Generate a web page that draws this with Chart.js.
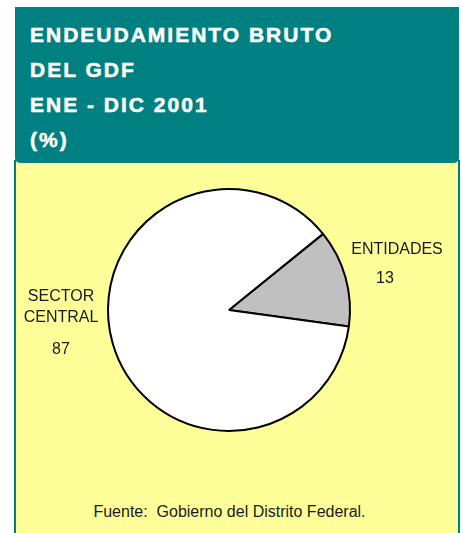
<!DOCTYPE html>
<html>
<head>
<meta charset="utf-8">
<script src="https://cdn.jsdelivr.net/npm/chart.js@4/dist/chart.umd.min.js"></script>
<style>
  body { margin: 0; background: #fff; width: 461px; height: 533px; overflow: hidden; position: relative; font-family: "Liberation Sans", Arial, sans-serif; }
  #panel { position: absolute; left: 14px; top: 160px; width: 442px; height: 380px; background: #ffff99; border-left: 2px solid #008080; border-right: 2px solid #008080; }
  #head { position: absolute; left: 15px; top: 7px; width: 444px; height: 156px; background: #008080; border-radius: 0 0 5px 5px; }
  #head div { color: #fff; font-weight: bold; font-size: 21px; line-height: 35px; letter-spacing: 2px; -webkit-text-stroke: 0.5px #fff; padding: 10px 0 0 15px; }
  #foot { position: absolute; left: 0; top: 504px; width: 459px; text-align: center; font-size: 16px; line-height: 16px; color: #1a1a1a; white-space: pre; }
  #c { position: absolute; left: 0; top: 0; }
</style>
</head>
<body>
<div id="panel"></div>
<div id="head"><div>ENDEUDAMIENTO BRUTO<br>DEL GDF<br>ENE - DIC 2001<br>(%)</div></div>
<div id="foot">Fuente:  Gobierno del Distrito Federal.</div>
<canvas id="c" width="461" height="533"></canvas>
<script>
const categories = ["ENTIDADES", "SECTOR CENTRAL"];
const labelLines = [["ENTIDADES"], ["SECTOR", "CENTRAL"]];
const shares = [13, 87];
const sliceColors = ["#c0c0c0", "#ffffff"];

// text beside each slice: right-hand label for the small wedge, left for the big one
const sliceLabels = {
  id: "sliceLabels",
  afterDatasetsDraw(chart) {
    const ctx = chart.ctx;
    const arcs = chart.getDatasetMeta(0).data;
    ctx.save();
    ctx.font = "16px 'Liberation Sans', Arial, sans-serif";
    ctx.fillStyle = "#1a1a1a";
    ctx.textAlign = "center";
    ctx.textBaseline = "alphabetic";
    arcs.forEach((arc, i) => {
      const { x, y, outerRadius } = arc.getProps(["x", "y", "outerRadius"], true);
      const lines = labelLines[i];
      if (i === 0) {
        ctx.fillText(lines[0], x + outerRadius + 47, y - 56);
        ctx.fillText(String(shares[i]), x + outerRadius + 35, y - 27);
      } else {
        const lx = x - outerRadius - 47;
        ctx.fillText(lines[0], lx, y - 9);
        ctx.fillText(lines[1], lx, y + 12);
        ctx.fillText(String(shares[i]), lx, y + 44);
      }
    });
    ctx.restore();
  }
};

new Chart(document.getElementById("c").getContext("2d"), {
  type: "pie",
  data: {
    labels: categories,
    datasets: [{
      data: shares,
      backgroundColor: sliceColors,
      borderColor: "#000",
      borderWidth: 2
    }]
  },
  options: {
    responsive: false,
    animation: false,
    rotation: 51,
    radius: 121,
    layout: { padding: { top: 87, right: 3 } },
    plugins: {
      legend: { display: false },
      tooltip: { enabled: false }
    }
  },
  plugins: [sliceLabels]
});
</script>
</body>
</html>
